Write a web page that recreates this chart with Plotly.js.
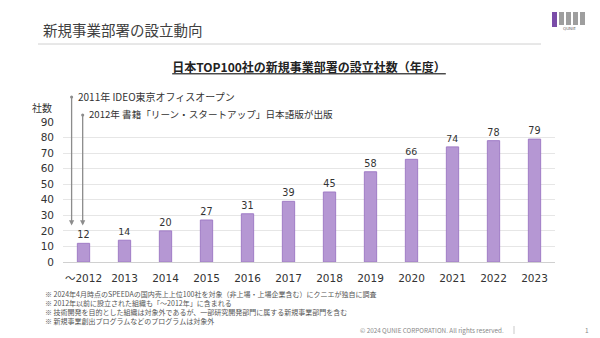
<!DOCTYPE html>
<html>
<head>
<meta charset="utf-8">
<script src="https://cdn.plot.ly/plotly-3.0.1.min.js"></script>
<style>html,body{margin:0;padding:0;background:#fff;}#chart{width:600px;height:338px;}</style>
</head>
<body>
<div id="chart"></div>
<script>
const categories = ["～2012","2013","2014","2015","2016","2017","2018","2019","2020","2021","2022","2023"];
const companyCounts = [12,14,20,27,31,39,45,58,66,74,78,79];
const yTicks = [0,10,20,30,40,50,60,70,80,90];
const pageTitle = "新規事業部署の設立動向";
const chartTitle = "日本TOP100社の新規事業部署の設立社数（年度）";
const yLabel = "社数";
const events = ["2011年 IDEO東京オフィスオープン", "2012年 書籍「リーン・スタートアップ」日本語版が出版"];
const footnotes = [
  "※ 2024年4月時点のSPEEDAの国内売上上位100社を対象（非上場・上場企業含む）にクニエが独自に調査",
  "※ 2012年以前に設立された組織も「～2012年」に含まれる",
  "※ 技術開発を目的とした組織は対象外であるが、一部研究開発部門に属する新規事業部門を含む",
  "※ 新規事業創出プログラムなどのプログラムは対象外"
];
const copyright = "© 2024 QUNIE CORPORATION. All rights reserved.";

const F = "DejaVu Sans, Noto Sans CJK JP, sans-serif";
const J = "Noto Sans CJK JP, DejaVu Sans, sans-serif";

// plot area: x 63..555, y 122..262
const L = 63, R = 555, T = 122, B = 262;
const px = v => (v - L) / (R - L);
const py = v => (B - v) / (B - T);

const annotations = [
  {xref:'paper', yref:'paper', x:px(41), y:py(30), xanchor:'left', yanchor:'middle', text:pageTitle, showarrow:false, font:{family:J, size:14.5, color:'#404040'}},
  {xref:'paper', yref:'paper', x:px(30), y:py(108), xanchor:'left', yanchor:'middle', text:yLabel, showarrow:false, font:{family:J, size:10, color:'#333'}},
  // event arrows
  {xref:'x', yref:'y', x:-0.29, y:23.5, ax:0, ay:-(225-95), axref:'pixel', ayref:'pixel', text:'', showarrow:true, arrowhead:2, arrowsize:0.8, arrowwidth:1.3, arrowcolor:'#8c8c8c', arrowside:'end+start', startarrowhead:6, startarrowsize:0.6},
  {xref:'x', yref:'y', x:-0.02, y:23.5, ax:0, ay:-(225-113), axref:'pixel', ayref:'pixel', text:'', showarrow:true, arrowhead:2, arrowsize:0.8, arrowwidth:1.3, arrowcolor:'#8c8c8c', arrowside:'end+start', startarrowhead:6, startarrowsize:0.6},
  {xref:'paper', yref:'paper', x:px(76), y:py(96), xanchor:'left', yanchor:'middle', text:events[0], showarrow:false, font:{family:J, size:10, color:'#333'}},
  {xref:'paper', yref:'paper', x:px(87), y:py(114), xanchor:'left', yanchor:'middle', text:events[1], showarrow:false, font:{family:J, size:9.6, color:'#333'}},
  {xref:'paper', yref:'paper', x:px(506), y:py(330), xanchor:'right', yanchor:'middle', text:copyright, showarrow:false, font:{family:J, size:6.3, color:'#888'}},
  {xref:'paper', yref:'paper', x:px(587), y:py(330), xanchor:'center', yanchor:'middle', text:'1', showarrow:false, font:{family:J, size:6.5, color:'#888'}},
  {xref:'paper', yref:'paper', x:px(569), y:py(29), xanchor:'center', yanchor:'middle', text:'QUNIE', showarrow:false, font:{family:F, size:4, color:'#666'}}
];
footnotes.forEach((t, i) => {
  annotations.push({xref:'paper', yref:'paper', x:px(43), y:py(294 + i*9), xanchor:'left', yanchor:'middle', text:t, showarrow:false, font:{family:J, size:7, color:'#555'}});
});

const shapes = [
  {type:'line', xref:'paper', yref:'paper', x0:px(38), x1:px(541), y0:py(44), y1:py(44), line:{color:'#d0d0d0', width:1}},
  {type:'line', xref:'paper', yref:'paper', x0:px(514), x1:px(514), y0:py(326), y1:py(334), line:{color:'#bbb', width:0.8}}
];
[552,559,566,573,580].forEach((x, i) => {
  shapes.push({type:'rect', xref:'paper', yref:'paper', x0:px(x), x1:px(x+5), y0:py(i===0?27:25), y1:py(12), line:{width:0}, fillcolor: i===0 ? '#7a4ca8' : '#9e9e9e'});
});

const data = [{
  type:'bar', x:categories, y:companyCounts, width:0.3,
  marker:{color:'#b597d3', line:{color:'#a07cc6', width:1}},
  text:companyCounts.map(String), textposition:'outside', cliponaxis:false,
  textfont:{family:F, size:10.5, color:'#333'}, hoverinfo:'none'
}];

const layout = {
  width:600, height:338,
  margin:{l:L, r:600-R, t:T, b:338-B, pad:0},
  paper_bgcolor:'#fff', plot_bgcolor:'#fff',
  showlegend:false,
  title:{text:'<b><u>'+chartTitle+'</u></b>', x:0.5, xref:'paper', xanchor:'center', y:1-68/338, yanchor:'middle', font:{family:J, size:12, color:'#222'}},
  xaxis:{type:'category', tickfont:{family:F, size:10.5, color:'#333'}, showgrid:false, showline:false, ticks:'', ticklabelstandoff:8, fixedrange:true},
  yaxis:{range:[0,90], tickvals:yTicks, tickfont:{family:F, size:10.5, color:'#333'}, showgrid:true, gridcolor:'#e6e6e6', gridwidth:1, zeroline:true, zerolinecolor:'#d0d0d0', zerolinewidth:1, ticks:'', ticklabelstandoff:8, fixedrange:true},
  annotations:annotations,
  shapes:shapes
};

Plotly.newPlot('chart', data, layout, {staticPlot:true, displayModeBar:false});
</script>
</body>
</html>
